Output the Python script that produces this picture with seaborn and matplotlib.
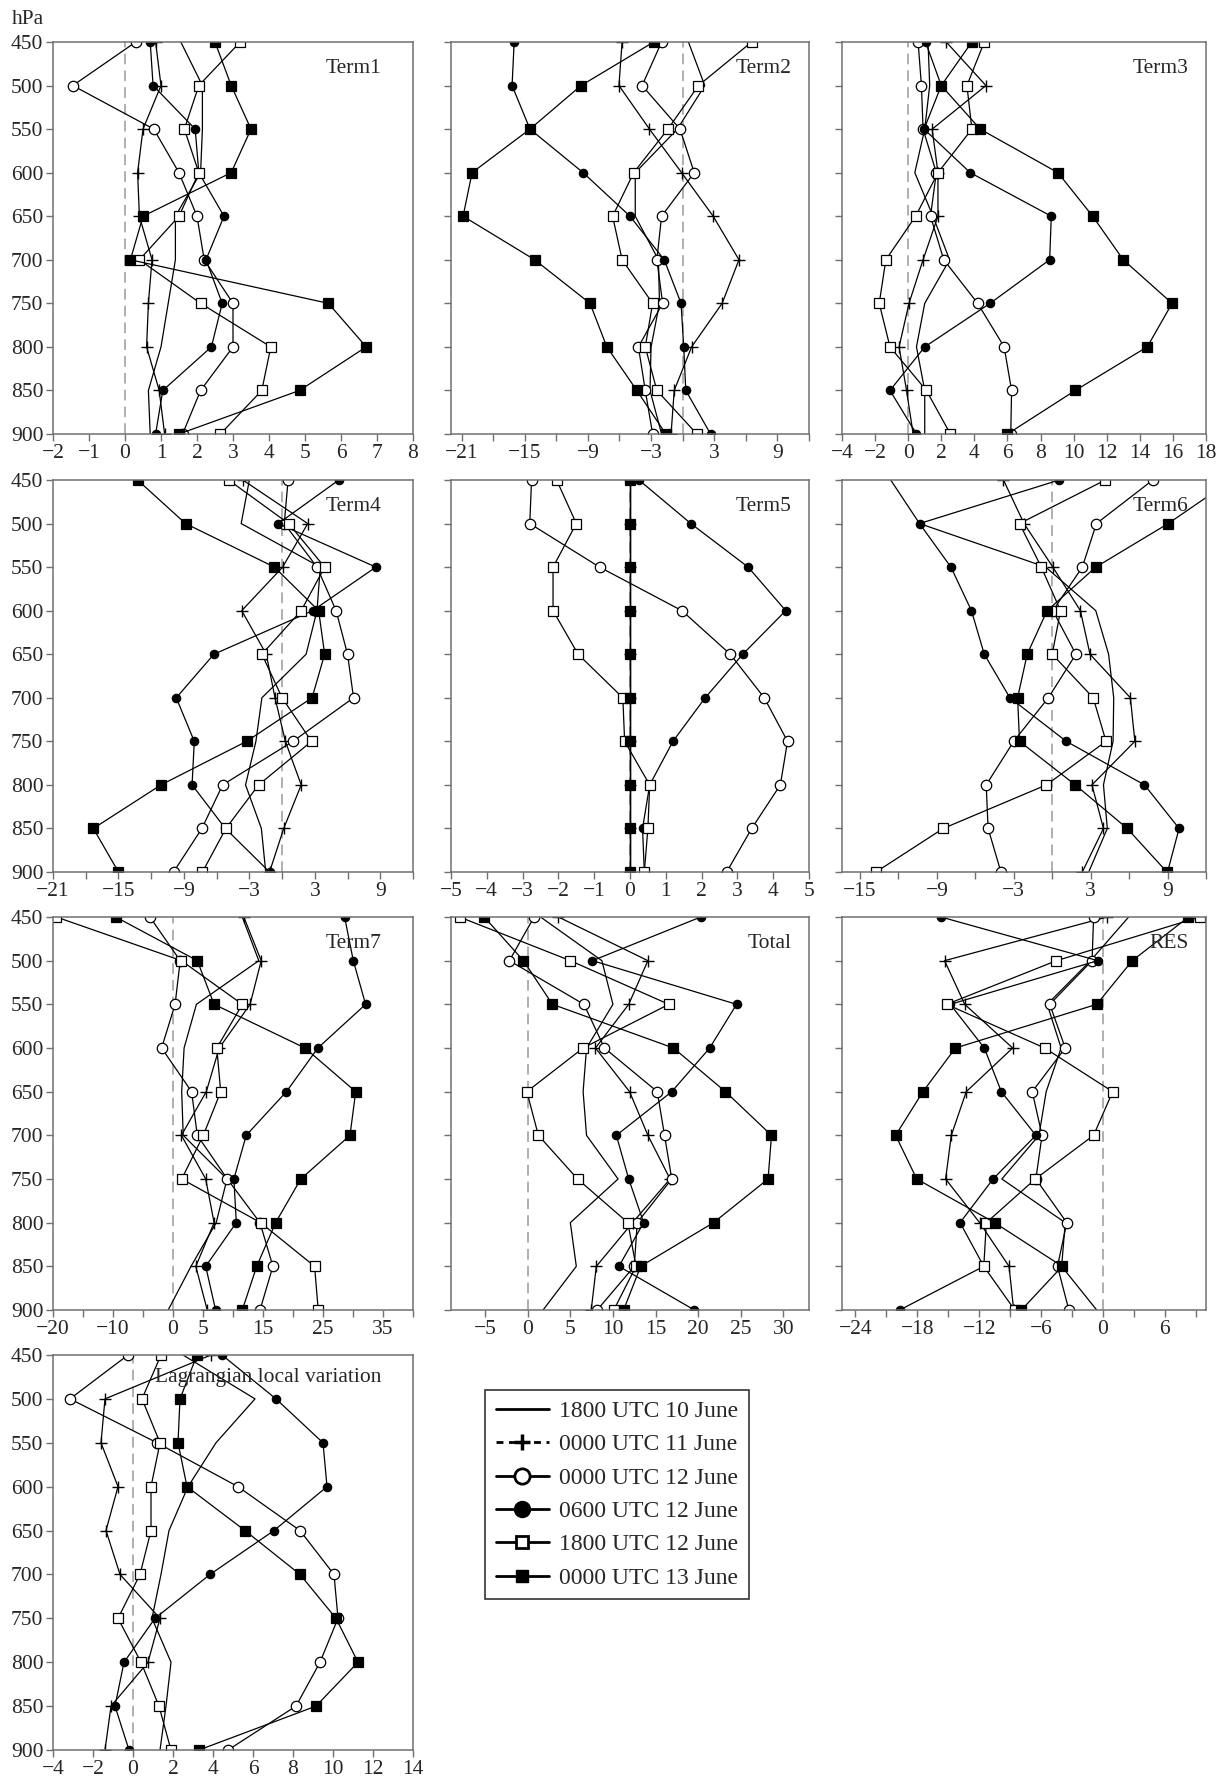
import matplotlib
matplotlib.use("Agg")
import matplotlib.pyplot as plt
from matplotlib.lines import Line2D
import seaborn as sns

# pressure levels (hPa) and the six analysis times
levels = [450, 500, 550, 600, 650, 700, 750, 800, 850, 900]
times = ["1800 UTC 10 June", "0000 UTC 11 June", "0000 UTC 12 June",
         "0600 UTC 12 June", "1800 UTC 12 June", "0000 UTC 13 June"]

# each panel: one row per time, values from 450 to 900 hPa
term1 = [
    [1.55, 2.15, 2.15, 2.1, 1.4, 1.4, 1.2, 1.0, 0.65, 0.7],
    [0.85, 1.0, 0.5, 0.35, 0.4, 0.75, 0.65, 0.6, 0.95, 1.1],
    [0.3, -1.45, 0.8, 1.5, 2.0, 2.2, 3.0, 3.0, 2.1, 1.6],
    [0.7, 0.78, 1.95, 2.05, 2.75, 2.25, 2.7, 2.4, 1.05, 0.85],
    [3.2, 2.05, 1.65, 2.05, 1.5, 0.4, 2.1, 4.05, 3.8, 2.65],
    [2.5, 2.95, 3.5, 2.95, 0.5, 0.15, 5.65, 6.7, 4.85, 1.5],
]
term2 = [
    [0.55, 2.1, -0.5, -4.5, -4.5, -2.3, -2.2, -3.0, -3.1, -2.0],
    [-5.75, -6.05, -3.15, -0.1, 2.9, 5.35, 3.75, 0.85, -0.8, -1.1],
    [-2.0, -3.85, -0.25, 1.1, -2.0, -2.45, -1.9, -4.2, -3.55, -2.85],
    [-16.0, -16.2, -14.5, -9.45, -5.0, -1.75, -0.15, 0.1, 0.3, 2.65],
    [6.55, 1.5, -1.4, -4.65, -6.65, -5.75, -2.85, -3.55, -2.45, 1.35],
    [-2.75, -9.65, -14.5, -20.0, -20.85, -14.05, -8.8, -7.2, -4.35, -1.6],
]
term3 = [
    [1.2, 1.3, 1.0, 0.4, 1.5, 2.5, 1.0, 0.5, 1.0, 1.0],
    [2.3, 4.7, 1.45, 1.8, 1.8, 0.9, 0.05, -0.55, -0.1, 0.3],
    [0.6, 0.8, 0.9, 1.7, 1.35, 2.15, 4.2, 5.8, 6.25, 6.2],
    [1.05, 2.0, 0.96, 3.75, 8.65, 8.55, 4.95, 1.0, -1.1, 0.5],
    [4.6, 3.55, 3.85, 1.8, 0.45, -1.35, -1.75, -1.1, 1.1, 2.55],
    [3.85, 2.0, 4.35, 9.05, 11.15, 13.0, 15.95, 14.45, 10.1, 6.0],
]
term4 = [
    [-3.0, -3.75, 3.5, 3.2, 2.2, -1.85, -2.4, -3.35, -1.9, -1.5],
    [-3.6, 2.35, 0.05, -3.7, -1.45, -0.65, 0.3, 1.75, 0.15, -1.15],
    [0.55, 0.2, 3.2, 4.95, 6.0, 6.55, 1.0, -5.45, -7.35, -9.95],
    [5.2, -0.35, 8.6, 2.8, -6.25, -9.7, -8.05, -8.25, -5.2, -1.15],
    [-4.9, 0.6, 3.9, 1.75, -1.85, 0.0, 2.7, -2.15, -5.15, -7.3],
    [-13.25, -8.85, -0.7, 3.35, 3.9, 2.75, -3.25, -11.1, -17.3, -15.0],
]
term5 = [
    [0, 0, 0, 0, 0, 0, 0, 0, 0, 0],
    [0, 0, 0, 0, 0, 0, 0, 0, 0, 0],
    [-2.75, -2.8, -0.85, 1.45, 2.8, 3.75, 4.4, 4.2, 3.4, 2.7],
    [0.25, 1.7, 3.3, 4.35, 3.15, 2.1, 1.2, 0.55, 0.35, 0.4],
    [-2.05, -1.5, -2.15, -2.15, -1.45, -0.2, -0.15, 0.55, 0.5, 0.4],
    [0, 0, 0, 0, 0, 0, 0, 0, 0, 0],
]
term6 = [
    [-12.6, -10.35, -0.5, 3.4, 4.4, 4.8, 4.75, 4.0, 4.3, 2.85],
    [-3.8, -2.2, 0.05, 2.2, 2.95, 6.1, 6.45, 3.1, 4.0, 2.35],
    [7.85, 3.45, 2.35, 0.05, 1.85, -0.3, -3.0, -5.15, -5.0, -4.0],
    [0.55, -10.35, -7.9, -6.3, -5.3, -3.3, 1.1, 7.2, 9.9, 9.0],
    [4.15, -2.55, -0.85, 0.65, 0.0, 3.2, 4.2, -0.45, -8.5, -13.75],
    [14.0, 9.05, 3.4, -0.4, -1.95, -2.7, -2.55, 1.8, 5.85, 8.95],
]
term7 = [
    [11.55, 14.3, 3.9, 1.85, 1.45, 1.7, 9.0, 7.2, 3.0, -0.8],
    [11.8, 14.7, 12.85, 7.7, 5.55, 1.4, 5.45, 6.85, 3.8, 5.7],
    [-3.85, 1.2, 0.35, -1.9, 3.1, 4.05, 9.05, 14.5, 16.65, 14.5],
    [28.6, 30.05, 32.1, 24.15, 18.9, 12.2, 10.15, 10.55, 5.45, 7.1],
    [-19.45, 1.4, 11.55, 7.3, 7.95, 5.05, 1.45, 14.6, 23.6, 24.2],
    [-9.55, 4.05, 6.85, 22.0, 30.45, 29.5, 21.3, 17.1, 13.95, 11.55],
]
total = [
    [1.5, 8.7, 10.0, 6.9, 6.5, 6.9, 10.6, 5.0, 5.7, 1.8],
    [3.6, 14.1, 11.85, 7.95, 11.95, 14.1, 16.7, 12.3, 8.05, 7.45],
    [0.75, -2.15, 6.6, 9.0, 15.2, 16.05, 16.9, 12.85, 12.5, 8.15],
    [20.3, 7.6, 24.5, 21.35, 16.9, 10.4, 11.85, 13.6, 10.7, 19.55],
    [-8.0, 5.0, 16.55, 6.5, -0.1, 1.25, 5.85, 11.75, 12.7, 10.1],
    [-5.1, -0.5, 2.9, 17.1, 23.2, 28.6, 28.2, 21.8, 13.25, 11.25],
]
res = [
    [2.5, -1.2, -5.4, -4.05, -5.5, -6.2, -9.8, -3.65, -4.0, -0.6],
    [0.4, -15.35, -13.4, -8.75, -13.25, -14.7, -15.25, -11.95, -9.1, -8.65],
    [-0.9, -1.05, -5.15, -3.65, -6.85, -5.9, -6.5, -3.5, -4.4, -3.3],
    [-15.7, -0.5, -14.8, -11.5, -9.85, -6.5, -10.65, -13.85, -11.55, -19.7],
    [9.4, -4.5, -15.15, -5.65, 0.95, -0.9, -6.55, -11.3, -11.55, -8.55],
    [8.3, 2.85, -0.6, -14.3, -17.45, -20.1, -18.05, -10.5, -3.95, -7.9],
]
lagrangian = [
    [2.5, 6.1, 4.15, 2.75, 1.8, 1.4, 0.95, 1.9, 1.65, 1.35],
    [3.9, -1.4, -1.6, -0.75, -1.35, -0.65, 1.35, 0.75, -1.1, -1.4],
    [-0.25, -3.15, 1.2, 5.25, 8.35, 10.05, 10.25, 9.35, 8.15, 4.75],
    [4.45, 7.15, 9.5, 9.7, 7.05, 3.85, 1.1, -0.45, -0.9, -0.2],
    [1.4, 0.45, 1.35, 0.9, 0.9, 0.35, -0.75, 0.4, 1.3, 1.9],
    [3.2, 2.35, 2.25, 2.7, 5.6, 8.35, 10.15, 11.25, 9.15, 3.3],
]

# name, data, x limits, tick positions, labelled ticks
panels = [
    ("Term1", term1, (-2, 8), list(range(-2, 9)), list(range(-2, 9))),
    ("Term2", term2, (-22, 12), list(range(-21, 13, 3)), [-21, -15, -9, -3, 3, 9]),
    ("Term3", term3, (-4, 18), list(range(-4, 19, 2)), list(range(-4, 19, 2))),
    ("Term4", term4, (-21, 12), list(range(-21, 13, 3)), [-21, -15, -9, -3, 3, 9]),
    ("Term5", term5, (-5, 5), list(range(-5, 6)), list(range(-5, 6))),
    ("Term6", term6, (-16.4, 12), list(range(-15, 13, 3)), [-15, -9, -3, 3, 9]),
    ("Term7", term7, (-20, 40), list(range(-20, 41, 5)), [-20, -10, 0, 5, 15, 25, 35]),
    ("Total", total, (-9, 33), list(range(-5, 31, 5)), list(range(-5, 31, 5))),
    ("RES", res, (-25.3, 10), list(range(-24, 10, 3)), [-24, -18, -12, -6, 0, 6]),
    ("Lagrangian local variation", lagrangian, (-4, 14), list(range(-4, 15, 2)), list(range(-4, 15, 2))),
]

sns.set_style("ticks")
plt.rcParams["font.family"] = ["Liberation Serif", "DejaVu Serif"]

styles = [
    dict(marker=None),
    dict(marker="+", markersize=8, markeredgewidth=1.0, markerfacecolor="black"),
    dict(marker="o", markersize=7.5, markeredgewidth=0.9, markerfacecolor="white"),
    dict(marker="o", markersize=6, markeredgewidth=0.9, markerfacecolor="black"),
    dict(marker="s", markersize=7.5, markeredgewidth=0.9, markerfacecolor="white"),
    dict(marker="s", markersize=6.5, markeredgewidth=0.9, markerfacecolor="black"),
]

W, H = 1226, 1785
fig = plt.figure(figsize=(W / 100, H / 100), dpi=100)

col_x = [(53, 413), (451, 809), (842, 1206)]
row_y = [(42, 434), (480, 872), (917, 1310), (1355, 1750)]
frame_grey = "#707070"


def fmt(v):
    return str(v).replace("-", "\u2212")


for i, (name, data, xlim, ticks, labelled) in enumerate(panels):
    r, c = divmod(i, 3)
    x0, x1 = col_x[c]
    y0, y1 = row_y[r]
    ax = fig.add_axes([x0 / W, 1 - y1 / H, (x1 - x0) / W, (y1 - y0) / H])

    ax.axvline(0, color="#9a9a9a", ls=(0, (7, 4)), lw=1.1, zorder=0)
    for vals, st in zip(data, styles):
        sns.lineplot(x=vals, y=levels, orient="y", estimator=None, color="black",
                     lw=0.9, markeredgecolor="black", ax=ax, **st)

    ax.set_xlim(*xlim)
    ax.set_ylim(900, 450)
    ax.set_xticks(ticks)
    ax.set_xticklabels([fmt(t) if t in labelled else "" for t in ticks])
    ax.set_yticks(levels)
    if c == 0:
        ax.set_yticklabels([str(v) for v in levels])
    else:
        ax.set_yticklabels([])
    ax.set_xlabel("")
    ax.set_ylabel("")
    ax.tick_params(direction="out", length=5, width=1, color=frame_grey,
                   labelsize=15.5, pad=2)
    for sp in ax.spines.values():
        sp.set_color(frame_grey)
        sp.set_linewidth(1.1)

    tx = 0.912 if c == 0 else 0.952
    ty = 0.942 if r == 3 else 0.933
    ax.text(tx, ty, name, transform=ax.transAxes, ha="right", va="center", fontsize=15.5)

fig.text(12 / W, 1 - 20 / H, "hPa", ha="left", va="center", fontsize=15.5)

# legend in the empty area beside the last panel
handles = [
    Line2D([], [], color="black", lw=2),
    Line2D([], [], color="black", lw=2, ls=(0, (2.5, 2)), marker="+", ms=12, mew=2.5),
    Line2D([], [], color="black", lw=2, marker="o", ms=11, mfc="white", mec="black", mew=2),
    Line2D([], [], color="black", lw=2, marker="o", ms=11.5, mfc="black", mec="black"),
    Line2D([], [], color="black", lw=2, marker="s", ms=9, mfc="white", mec="black", mew=2),
    Line2D([], [], color="black", lw=2, marker="s", ms=8.5, mfc="black", mec="black"),
]
leg = fig.legend(handles, times, loc="upper left", bbox_to_anchor=(485 / W, 1 - 1390 / H),
                 fontsize=17, frameon=True, fancybox=False, edgecolor="black",
                 handlelength=2.25, labelspacing=0.5, borderpad=0.45, borderaxespad=0,
                 handletextpad=0.45)
leg.get_frame().set_linewidth(1.2)

fig.savefig("out.png", dpi=100, facecolor="white")
